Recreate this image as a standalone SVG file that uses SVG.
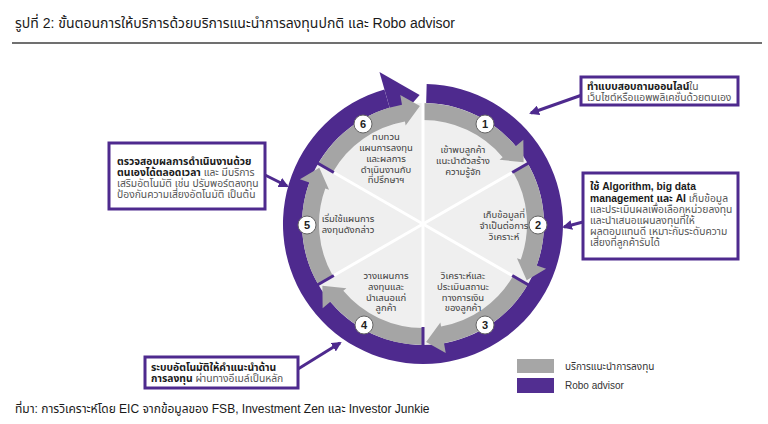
<svg xmlns="http://www.w3.org/2000/svg" xmlns:xlink="http://www.w3.org/1999/xlink" width="768" height="424" viewBox="0 0 768 424">
<style>
text{font-family:"Liberation Sans","Noto Sans Thai","Noto Sans",sans-serif;}
.title{font-size:14px;fill:#1a1a1a;}
.foot{font-size:12px;fill:#1a1a1a;}
.st{font-size:9.5px;fill:#404040;text-anchor:middle;}
.bx{font-size:10.3px;fill:#555;}
.b{font-weight:bold;fill:#1a1a1a;}
.num{font-size:11px;font-weight:bold;fill:#222;text-anchor:middle;}
.box{fill:#fff;stroke:#4e2a8e;stroke-width:3;}
.conn{stroke:#4e2a8e;stroke-width:3;fill:none;marker-end:url(#ah);}
.gray{fill:#a5a5a5;}
.tick{stroke:#4e2a8e;stroke-width:3;}
.wl{stroke:#fff;stroke-width:3;}
.nc{fill:#fff;stroke:#666;stroke-width:1;}
.leg{font-size:10px;fill:#333;}
</style>
<defs>
<marker id="ah" viewBox="0 0 10 10" refX="8" refY="5" markerWidth="10" markerHeight="10" markerUnits="userSpaceOnUse" orient="auto"><path d="M0,0 L10,5 L0,10 z" fill="#4e2a8e"/></marker>
<path id="seg" class="gray" d="M 423 103 A 121 121 0 0 1 515.69 146.22 L 523.35 139.79 L 523.61 162.34 L 499.60 159.72 L 502.67 157.15 A 104 104 0 0 0 423 120 Z"/>
<line id="tk" class="tick" x1="512.2" y1="172.5" x2="528.66" y2="163"/>
<line id="rl" class="wl" x1="423" y1="224" x2="423" y2="120"/>
</defs>

<text class="title" x="15" y="28">รูปที่ 2: ขั้นตอนการให้บริการด้วยบริการแนะนำการลงทุนปกติ และ Robo advisor</text>
<line x1="12" y1="43" x2="762" y2="43" stroke="#404040" stroke-width="1.5"/>

<g id="cycle">
<circle cx="423" cy="224" r="121" fill="#efefef"/>
<path fill="#4e2a8e" d="M 426.67 84.05 A 140 140 0 1 1 384.41 89.42 L 389.65 107.69 A 121 121 0 1 0 426.17 103.04 Z"/>
<path fill="#4e2a8e" d="M 379.45 72.12 L 419.62 95.04 L 394.33 124.03 Z"/>
<use xlink:href="#seg"/>
<use xlink:href="#seg" transform="rotate(60 423 224)"/>
<use xlink:href="#seg" transform="rotate(120 423 224)"/>
<use xlink:href="#seg" transform="rotate(180 423 224)"/>
<use xlink:href="#seg" transform="rotate(240 423 224)"/>
<use xlink:href="#seg" transform="rotate(300 423 224)"/>
<line class="wl" x1="423" y1="224" x2="423" y2="70" stroke-width="4"/>
<use xlink:href="#rl" transform="rotate(60 423 224)"/>
<use xlink:href="#rl" transform="rotate(120 423 224)"/>
<use xlink:href="#rl" transform="rotate(180 423 224)"/>
<use xlink:href="#rl" transform="rotate(240 423 224)"/>
<use xlink:href="#rl" transform="rotate(300 423 224)"/>
<use xlink:href="#tk"/>
<use xlink:href="#tk" transform="rotate(60 423 224)"/>
<use xlink:href="#tk" transform="rotate(120 423 224)"/>
<use xlink:href="#tk" transform="rotate(180 423 224)"/>
<use xlink:href="#tk" transform="rotate(240 423 224)"/>
</g>

<g id="step1">
<circle class="nc" cx="485" cy="124" r="9"/><text class="num" x="485" y="128">1</text>
<text class="st" x="463" y="153">เข้าพบลูกค้า</text>
<text class="st" x="463" y="164">แนะนำตัวสร้าง</text>
<text class="st" x="463" y="175">ความรู้จัก</text>
</g>
<g id="step2">
<circle class="nc" cx="538" cy="225" r="9"/><text class="num" x="538" y="229">2</text>
<text class="st" x="504" y="218">เก็บข้อมูลที่</text>
<text class="st" x="504" y="229">จำเป็นต่อการ</text>
<text class="st" x="504" y="240">วิเคราะห์</text>
</g>
<g id="step3">
<circle class="nc" cx="485" cy="325" r="9"/><text class="num" x="485" y="329">3</text>
<text class="st" x="463" y="279">วิเคราะห์และ</text>
<text class="st" x="463" y="290">ประเมินสถานะ</text>
<text class="st" x="463" y="301">ทางการเงิน</text>
<text class="st" x="463" y="311">ของลูกค้า</text>
</g>
<g id="step4">
<circle class="nc" cx="364" cy="325" r="9"/><text class="num" x="364" y="329">4</text>
<text class="st" x="386" y="279">วางแผนการ</text>
<text class="st" x="386" y="290">ลงทุนและ</text>
<text class="st" x="386" y="301">นำเสนอแก่</text>
<text class="st" x="386" y="311">ลูกค้า</text>
</g>
<g id="step5">
<circle class="nc" cx="307" cy="225" r="9"/><text class="num" x="307" y="229">5</text>
<text class="st" x="348" y="222">เริ่มใช้แผนการ</text>
<text class="st" x="348" y="233">ลงทุนดังกล่าว</text>
</g>
<g id="step6">
<circle class="nc" cx="363" cy="124" r="9"/><text class="num" x="363" y="128">6</text>
<text class="st" x="386" y="140">ทบทวน</text>
<text class="st" x="386" y="151">แผนการลงทุน</text>
<text class="st" x="386" y="162">และผลการ</text>
<text class="st" x="386" y="172.5">ดำเนินงานกับ</text>
<text class="st" x="386" y="183">ที่ปรึกษาฯ</text>
</g>

<g id="connectors">
<line class="conn" x1="582" y1="95" x2="531" y2="113"/>
<line class="conn" x1="583" y1="222" x2="564" y2="227"/>
<line class="conn" x1="265" y1="175" x2="287" y2="186"/>
<line class="conn" x1="298" y1="369" x2="340" y2="343"/>
</g>

<g id="note-online">
<rect class="box" x="581" y="77" width="157" height="28"/>
<text class="bx" x="587" y="90"><tspan class="b">ทำแบบสอบถามออนไลน์</tspan>ใน</text>
<text class="bx" x="587" y="101">เว็บไซต์หรือแอพพลิเคชั่นด้วยตนเอง</text>
</g>
<g id="note-algo">
<rect class="box" x="583" y="173" width="155" height="86"/>
<text class="bx" x="590" y="190"><tspan class="b">ใช้ Algorithm, big data</tspan></text>
<text class="bx" x="590" y="201.5"><tspan class="b">management และ AI</tspan> เก็บข้อมูล</text>
<text class="bx" x="590" y="213">และประเมินผลเพื่อเลือกหน่วยลงทุน</text>
<text class="bx" x="590" y="224">และนำเสนอแผนลงทุนที่ให้</text>
<text class="bx" x="590" y="235">ผลตอบแทนดี เหมาะกับระดับความ</text>
<text class="bx" x="590" y="246">เสี่ยงที่ลูกค้ารับได้</text>
</g>
<g id="note-monitor">
<rect class="box" x="109" y="143" width="156" height="66"/>
<text class="bx" x="117" y="165"><tspan class="b">ตรวจสอบผลการดำเนินงานด้วย</tspan></text>
<text class="bx" x="117" y="176"><tspan class="b">ตนเองได้ตลอดเวลา</tspan> และ มีบริการ</text>
<text class="bx" x="117" y="187">เสริมอัตโนมัติ เช่น ปรับพอร์ตลงทุน</text>
<text class="bx" x="117" y="198">ป้องกันความเสี่ยงอัตโนมัติ เป็นต้น</text>
</g>
<g id="note-auto">
<rect class="box" x="145" y="357" width="153" height="31"/>
<text class="bx" x="151" y="371"><tspan class="b">ระบบอัตโนมัติให้คำแนะนำด้าน</tspan></text>
<text class="bx" x="151" y="382"><tspan class="b">การลงทุน</tspan> ผ่านทางอีเมล์เป็นหลัก</text>
</g>

<g id="legend">
<rect x="517" y="359" width="37" height="14" fill="#a6a6a6"/>
<rect x="517" y="378" width="37" height="15" fill="#522e91"/>
<text class="leg" x="565" y="370">บริการแนะนำการลงทุน</text>
<text class="leg" x="565" y="389">Robo advisor</text>
</g>

<text class="foot" x="15" y="413">ที่มา: การวิเคราะห์โดย EIC จากข้อมูลของ FSB, Investment Zen และ Investor Junkie</text>
</svg>
